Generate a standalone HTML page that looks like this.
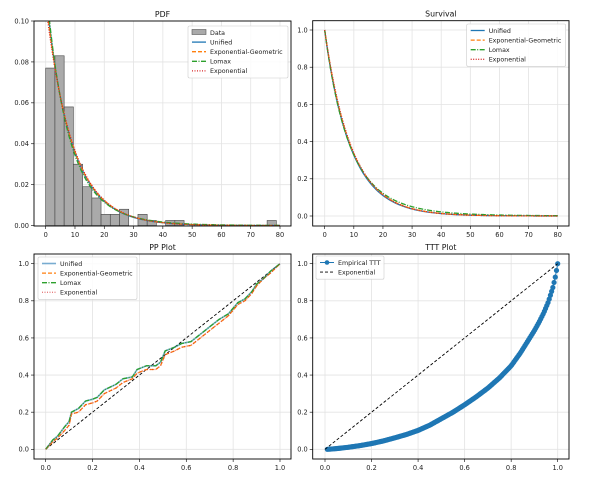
<!DOCTYPE html>
<html><head><meta charset="utf-8"><style>
body{margin:0;background:#fff;}
svg{display:block;font-family:"DejaVu Sans","Liberation Sans",sans-serif;}
</style></head><body>
<svg id="fig" width="601" height="477" viewBox="0 0 601 477" xmlns="http://www.w3.org/2000/svg"></svg>
<script>
// ---- data ----
const histHeights = [0.077,0.083,0.058,0.030,0.019,0.0135,0.0055,0.0055,0.008,0,0.0055,0.0025,0,0.0025,0.0025,0,0,0,0,0,0,0,0,0,0.0025];
const histBinWidth = [3.15];
const expRate = [0.108];
const expGeoParams = [0.106, 0.05];   // rate, p
const lomaxParams = [9, 76];          // alpha, sigma
const unifiedParams = [0.112, 0.98];  // rate, shape
const ppX = [0,0.03,0.05,0.08,0.10,0.11,0.14,0.17,0.20,0.22,0.25,0.30,0.33,0.37,0.39,0.43,0.47,0.49,0.51,0.55,0.58,0.62,0.66,0.70,0.74,0.78,0.82,0.85,0.88,0.90,0.93,0.96,1.0];
const ppUpper = [0,0.05,0.07,0.12,0.15,0.20,0.22,0.26,0.27,0.28,0.32,0.35,0.38,0.39,0.43,0.45,0.45,0.47,0.53,0.55,0.57,0.58,0.62,0.66,0.70,0.73,0.79,0.81,0.85,0.89,0.92,0.96,1.0];
const ppLower = [0,0.04,0.06,0.10,0.13,0.19,0.20,0.24,0.25,0.26,0.30,0.33,0.36,0.38,0.41,0.43,0.43,0.45,0.51,0.53,0.55,0.56,0.60,0.64,0.68,0.72,0.78,0.80,0.84,0.88,0.92,0.95,1.0];
const tttKnotsX = [0.01,0.05,0.1,0.15,0.2,0.25,0.3,0.35,0.4,0.45,0.5,0.55,0.6,0.65,0.7,0.75,0.8,0.84,0.88,0.9,0.92,0.94,0.96,0.98,0.99,1.0];
const tttKnotsY = [0,0.004,0.011,0.02,0.031,0.045,0.062,0.08,0.102,0.13,0.165,0.2,0.24,0.283,0.33,0.385,0.45,0.52,0.6,0.64,0.685,0.735,0.795,0.875,0.93,1.0];
const tttCount = [190];
const xTicks80 = [0,10,20,30,40,50,60,70,80];
const yTicksPdf = [0,0.02,0.04,0.06,0.08,0.10];
const yTicks1 = [0,0.2,0.4,0.6,0.8,1.0];
const xTicks1 = [0,0.2,0.4,0.6,0.8,1.0];

const NS="http://www.w3.org/2000/svg";
const svg=document.getElementById('fig');
function el(tag,attrs,parent){const e=document.createElementNS(NS,tag);for(const k in attrs)e.setAttribute(k,attrs[k]);(parent||svg).appendChild(e);return e;}
function lin(d0,d1,r0,r1){return v=>r0+(v-d0)*(r1-r0)/(d1-d0);}
function interp(xs,ys,x){if(x<=xs[0])return ys[0];for(let i=1;i<xs.length;i++){if(x<=xs[i]){const t=(x-xs[i-1])/(xs[i]-xs[i-1]);return ys[i-1]+t*(ys[i]-ys[i-1]);}}return ys[ys.length-1];}

const C={blue:'#1f77b4',orange:'#ff7f0e',green:'#2ca02c',red:'#d62728'};

function axes(name,box,xs,ys,xt,yt,xfmt,yfmt,title){
  const g=el('g',{});
  
  
  xt.forEach(v=>{el('line',{x1:xs(v),x2:xs(v),y1:box.t,y2:box.b,stroke:'#e3e3e3','stroke-width':0.8},g);});
  yt.forEach(v=>{el('line',{x1:box.l,x2:box.r,y1:ys(v),y2:ys(v),stroke:'#e3e3e3','stroke-width':0.8},g);});
  xt.forEach(v=>{el('line',{x1:xs(v),x2:xs(v),y1:box.b,y2:box.b+3,stroke:'#000','stroke-width':0.6},g);
    const t=el('text',{x:xs(v),y:box.b+11,'font-size':6.6,'text-anchor':'middle',fill:'#222'},g);t.textContent=xfmt(v);
    });
  yt.forEach(v=>{el('line',{x1:box.l-3,x2:box.l,y1:ys(v),y2:ys(v),stroke:'#000','stroke-width':0.6},g);
    const t=el('text',{x:box.l-5,y:ys(v)+2.4,'font-size':6.6,'text-anchor':'end',fill:'#222'},g);t.textContent=yfmt(v);
    });
  const tt=el('text',{x:(box.l+box.r)/2,y:box.t-4,'font-size':7.8,'text-anchor':'middle',fill:'#111'},g);tt.textContent=title;
  
  const clipId=name+'-clip';
  const cp=el('clipPath',{id:clipId},g);el('rect',{x:box.l,y:box.t,width:box.r-box.l,height:box.b-box.t},cp);
  const plot=el('g',{'clip-path':'url(#'+clipId+')'},g);
  return {g,plot,box};
}
function frame(a){el('rect',{x:a.box.l,y:a.box.t,width:a.box.r-a.box.l,height:a.box.b-a.box.t,fill:'none',stroke:'#000','stroke-width':0.9},a.g);}
function path(parent,pts,style,name){const d=pts.map((p,i)=>(i?'L':'M')+p[0].toFixed(2)+','+p[1].toFixed(2)).join('');
  const p=el('path',Object.assign({d,fill:'none'},style),parent);
  return p;}
const st={
 unified:{stroke:C.blue,'stroke-width':1.3},
 expgeo:{stroke:C.orange,'stroke-width':1.3,'stroke-dasharray':'4,2'},
 lomax:{stroke:C.green,'stroke-width':1.3,'stroke-dasharray':'5,1.5,1,1.5'},
 exp:{stroke:C.red,'stroke-width':1.3,'stroke-dasharray':'1,1.5'}
};
function legend(a,x,y,w,entries,name){
  const g=el('g',{},a.g);
  
  el('rect',{x,y,width:w,height:entries.length*9.6+4,fill:'#fff','fill-opacity':0.85,stroke:'#ccc','stroke-width':0.6,rx:1.5},g);
  entries.forEach((e,i)=>{const cy=y+6.5+i*9.6;
    const eg=el('g',{},g);
    if(e.patch){el('rect',{x:x+4,y:cy-3,width:14,height:5,fill:'#aaa',stroke:'#555','stroke-width':0.6},eg);}
    else{el('line',Object.assign({x1:x+4,x2:x+18,y1:cy,y2:cy},e.style),eg);
      if(e.marker)el('circle',{cx:x+11,cy,r:2.3,fill:C.blue},eg);}
    const t=el('text',{x:x+22,y:cy+2.3,'font-size':6.3,fill:'#222'},eg);t.textContent=e.label;});
}
const f1=v=>v.toFixed(1), f0=v=>String(v), f2=v=>v.toFixed(2);

const pdfExp=x=>expRate[0]*Math.exp(-expRate[0]*x);
const survExp=x=>Math.exp(-expRate[0]*x);
const survEG=x=>{const l=expGeoParams[0],p=expGeoParams[1];const e=Math.exp(-l*x);return (1-p)*e/(1-p*e);};
const pdfEG=x=>{const l=expGeoParams[0],p=expGeoParams[1];const e=Math.exp(-l*x);return (1-p)*l*e/Math.pow(1-p*e,2);};
const survLo=x=>Math.pow(1+x/lomaxParams[1],-lomaxParams[0]);
const pdfLo=x=>lomaxParams[0]/lomaxParams[1]*Math.pow(1+x/lomaxParams[1],-lomaxParams[0]-1);
const survUn=x=>Math.exp(-Math.pow(unifiedParams[0]*x,unifiedParams[1]));
const pdfUn=x=>{const l=unifiedParams[0],k=unifiedParams[1];if(x<=0)x=1e-3;return k*l*Math.pow(l*x,k-1)*Math.exp(-Math.pow(l*x,k));};
function sample(fn,xs,ys,a,b){const pts=[];for(let i=0;i<=200;i++){const x=a+(b-a)*i/200;pts.push([xs(x),ys(fn(x))]);}return pts;}

// ---- PDF ----
{
 const box={l:34,r:291,t:21,b:226};
 const xs=lin(0,80,45.7,280), ys=lin(0,0.1,225.6,21);
 const a=axes('pdf-panel',box,xs,ys,xTicks80,yTicksPdf,f0,f2,'PDF');
 histHeights.forEach((h,i)=>{if(h<=0)return;const x0=i*histBinWidth[0],x1=(i+1)*histBinWidth[0];
  const r=el('rect',{x:xs(x0),y:ys(h),width:xs(x1)-xs(x0),height:ys(0)-ys(h),fill:'#aaaaaa',stroke:'#444','stroke-width':0.6},a.plot);
  });
 path(a.plot,sample(pdfUn,xs,ys,0,80),st.unified,'unified-pdf-line');
 path(a.plot,sample(pdfEG,xs,ys,0,80),st.expgeo,'expgeo-pdf-line');
 path(a.plot,sample(pdfLo,xs,ys,0,80),st.lomax,'lomax-pdf-line');
 path(a.plot,sample(pdfExp,xs,ys,0,80),st.exp,'exp-pdf-line');
 frame(a);
 legend(a,188,26,100,[{patch:1,label:'Data'},{style:st.unified,label:'Unified'},{style:st.expgeo,label:'Exponential-Geometric'},{style:st.lomax,label:'Lomax'},{style:st.exp,label:'Exponential'}],'pdf-legend');
}
// ---- Survival ----
{
 const box={l:312.7,r:569,t:20.7,b:226};
 const xs=lin(0,80,324.7,557.7), ys=lin(0,1,216,30);
 const a=axes('survival-panel',box,xs,ys,xTicks80,yTicks1,f0,f1,'Survival');
 path(a.plot,sample(survUn,xs,ys,0,80),st.unified,'unified-survival-line');
 path(a.plot,sample(survEG,xs,ys,0,80),st.expgeo,'expgeo-survival-line');
 path(a.plot,sample(survLo,xs,ys,0,80),st.lomax,'lomax-survival-line');
 path(a.plot,sample(survExp,xs,ys,0,80),st.exp,'exp-survival-line');
 frame(a);
 legend(a,466.7,24,99,[{style:st.unified,label:'Unified'},{style:st.expgeo,label:'Exponential-Geometric'},{style:st.lomax,label:'Lomax'},{style:st.exp,label:'Exponential'}],'survival-legend');
}
// ---- PP ----
{
 const box={l:34,r:291,t:254,b:459};
 const xs=lin(0,1,45.7,280), ys=lin(0,1,449.3,263.7);
 const a=axes('pp-panel',box,xs,ys,xTicks1,yTicks1,f1,f1,'PP Plot');
 path(a.plot,[[xs(0),ys(0)],[xs(1),ys(1)]],{stroke:'#000','stroke-width':0.9,'stroke-dasharray':'3,2'},'pp-diagonal');
 const up=ppX.map((x,i)=>[xs(x),ys(ppUpper[i])]), lo=ppX.map((x,i)=>[xs(x),ys(ppLower[i])]);
 path(a.plot,up,{stroke:C.blue,'stroke-width':1.6,'stroke-opacity':0.6},'unified-pp-line');
 path(a.plot,lo,st.expgeo,'expgeo-pp-line');
 path(a.plot,up,st.lomax,'lomax-pp-line');
 path(a.plot,lo,Object.assign({},st.exp,{'stroke-opacity':0.6}),'exp-pp-line');
 frame(a);
 legend(a,38,257,99,[{style:{stroke:C.blue,'stroke-width':1.6,'stroke-opacity':0.6},label:'Unified'},{style:st.expgeo,label:'Exponential-Geometric'},{style:st.lomax,label:'Lomax'},{style:Object.assign({},st.exp,{'stroke-opacity':0.6}),label:'Exponential'}],'pp-legend');
}
// ---- TTT ----
{
 const box={l:312.7,r:569,t:254,b:459};
 const xs=lin(0,1,325,557.7), ys=lin(0,1,449.3,263.7);
 const a=axes('ttt-panel',box,xs,ys,xTicks1,yTicks1,f1,f1,'TTT Plot');
 const n=tttCount[0];
 const pts=[];
 for(let i=0;i<=n;i++){const x=tttKnotsX[0]+(1-tttKnotsX[0])*i/n;pts.push([x,interp(tttKnotsX,tttKnotsY,x)]);}
 path(a.plot,pts.map(p=>[xs(p[0]),ys(p[1])]),{stroke:C.blue,'stroke-width':1},'empirical-ttt-line');
 pts.forEach(p=>{const c=el('circle',{cx:xs(p[0]),cy:ys(p[1]),r:2.6,fill:C.blue},a.plot);
   });
 path(a.plot,[[xs(0),ys(0)],[xs(1),ys(1)]],{stroke:'#000','stroke-width':0.9,'stroke-dasharray':'3,2'},'ttt-exponential-diagonal');
 frame(a);
 legend(a,316,256,68,[{style:{stroke:C.blue,'stroke-width':1},marker:1,label:'Empirical TTT'},{style:{stroke:'#000','stroke-width':0.9,'stroke-dasharray':'3,2'},label:'Exponential'}],'ttt-legend');
}
</script>
</body></html>
